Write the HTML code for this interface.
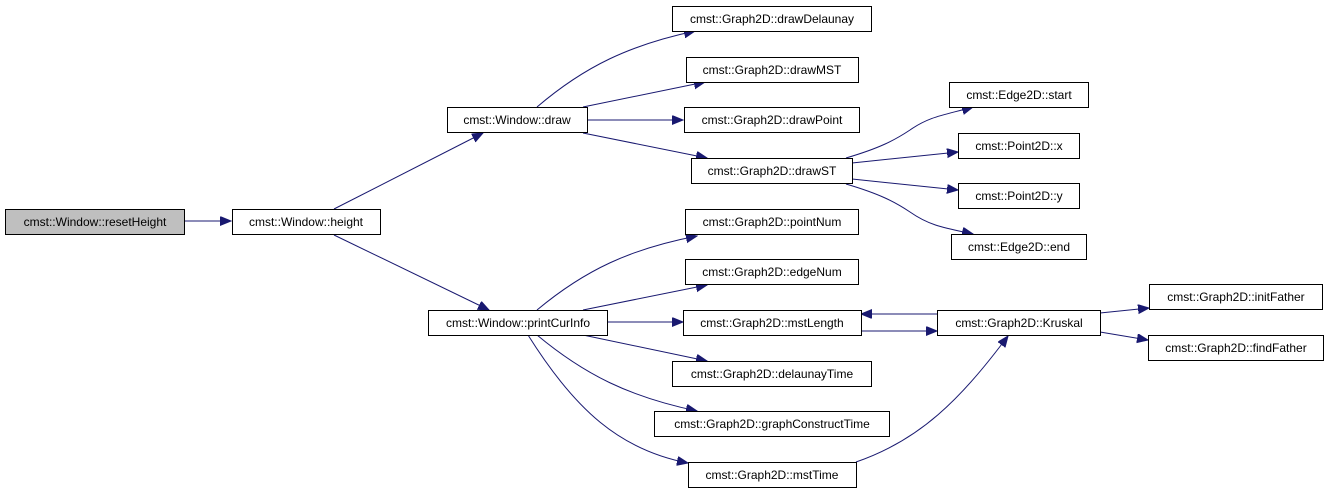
<!DOCTYPE html>
<html><head><meta charset="utf-8"><style>
html,body{margin:0;padding:0;background:#fff;}
svg{display:block;}
text{font-family:"Liberation Sans",Arial,sans-serif;font-size:12px;fill:#000;}
</style></head><body>
<svg width="1328" height="493" viewBox="0 0 1328 493" xmlns="http://www.w3.org/2000/svg">
<defs>
<marker id="a" markerUnits="userSpaceOnUse" markerWidth="12" markerHeight="10" refX="11" refY="4.5" orient="auto">
<path d="M0,0 L11,4.5 L0,9 Z" fill="#191970" stroke="#191970"/>
</marker>
</defs>
<g fill="none" stroke="#191970" stroke-width="1" marker-end="url(#a)">
<path d="M184,221 L231,221"/>
<path d="M334,209 L483,133"/>
<path d="M334,235 L489,310"/>
<path d="M537,107 C585,66 630,45 695,31"/>
<path d="M583,107 L705,82"/>
<path d="M587,120 L683,120"/>
<path d="M583,133 L707,158"/>
<path d="M846,158 C880,148 895,140 910,130 C930,116 945,115 973,107"/>
<path d="M852,163 L958,152"/>
<path d="M852,179 L958,190"/>
<path d="M846,184 C880,194 895,202 910,212 C930,226 945,228 973,234"/>
<path d="M537,310 C585,270 630,249 697,236"/>
<path d="M583,310 L707,285"/>
<path d="M607,322 L683,322"/>
<path d="M583,335 L707,361"/>
<path d="M537,335 C585,375 630,397 697,411"/>
<path d="M528,335 C575,410 620,450 688,463"/>
<path d="M861,331 L937,331"/>
<path d="M937,314 L861,314"/>
<path d="M856,462 C920,440 960,400 1008,336"/>
<path d="M1100,313 L1149,308"/>
<path d="M1100,332 L1148,340"/>
</g>
<g stroke="#000" stroke-width="1">
<rect x="5.5" y="209.5" width="179" height="25" fill="#bfbfbf"/>
<rect x="232.5" y="209.5" width="148" height="25" fill="#fff"/>
<rect x="447.5" y="107.5" width="140" height="25" fill="#fff"/>
<rect x="428.5" y="310.5" width="179" height="25" fill="#fff"/>
<rect x="672.5" y="6.5" width="199" height="25" fill="#fff"/>
<rect x="686.5" y="57.5" width="172" height="25" fill="#fff"/>
<rect x="684.5" y="107.5" width="175" height="25" fill="#fff"/>
<rect x="691.5" y="158.5" width="161" height="25" fill="#fff"/>
<rect x="685.5" y="209.5" width="173" height="25" fill="#fff"/>
<rect x="685.5" y="259.5" width="173" height="25" fill="#fff"/>
<rect x="683.5" y="310.5" width="178" height="25" fill="#fff"/>
<rect x="672.5" y="361.5" width="199" height="25" fill="#fff"/>
<rect x="654.5" y="411.5" width="235" height="25" fill="#fff"/>
<rect x="688.5" y="462.5" width="168" height="25" fill="#fff"/>
<rect x="949.5" y="82.5" width="139" height="25" fill="#fff"/>
<rect x="958.5" y="133.5" width="121" height="25" fill="#fff"/>
<rect x="958.5" y="183.5" width="121" height="25" fill="#fff"/>
<rect x="951.5" y="234.5" width="135" height="25" fill="#fff"/>
<rect x="937.5" y="310.5" width="163" height="25" fill="#fff"/>
<rect x="1149.5" y="284.5" width="173" height="25" fill="#fff"/>
<rect x="1148.5" y="335.5" width="175" height="25" fill="#fff"/>
</g>
<g text-anchor="middle">
<text x="95" y="226">cmst::Window::resetHeight</text>
<text x="306" y="226">cmst::Window::height</text>
<text x="517" y="124">cmst::Window::draw</text>
<text x="518" y="327">cmst::Window::printCurInfo</text>
<text x="772" y="23">cmst::Graph2D::drawDelaunay</text>
<text x="772" y="74">cmst::Graph2D::drawMST</text>
<text x="772" y="124">cmst::Graph2D::drawPoint</text>
<text x="772" y="175">cmst::Graph2D::drawST</text>
<text x="772" y="226">cmst::Graph2D::pointNum</text>
<text x="772" y="276">cmst::Graph2D::edgeNum</text>
<text x="772" y="327">cmst::Graph2D::mstLength</text>
<text x="772" y="378">cmst::Graph2D::delaunayTime</text>
<text x="772" y="428">cmst::Graph2D::graphConstructTime</text>
<text x="772" y="479">cmst::Graph2D::mstTime</text>
<text x="1019" y="99">cmst::Edge2D::start</text>
<text x="1019" y="150">cmst::Point2D::x</text>
<text x="1019" y="200">cmst::Point2D::y</text>
<text x="1019" y="251">cmst::Edge2D::end</text>
<text x="1019" y="327">cmst::Graph2D::Kruskal</text>
<text x="1236" y="301">cmst::Graph2D::initFather</text>
<text x="1236" y="352">cmst::Graph2D::findFather</text>
</g>
</svg>
</body></html>
